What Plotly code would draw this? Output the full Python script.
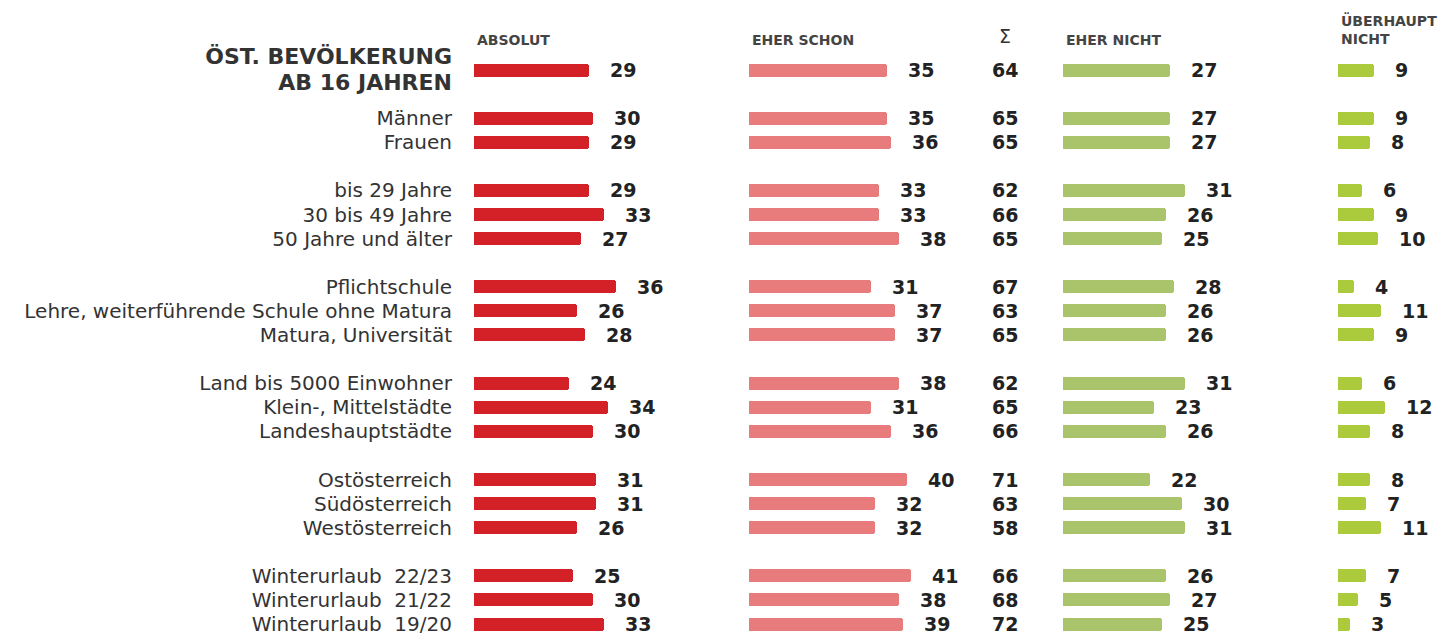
import plotly.graph_objects as go

# ---------------- data ----------------
groups = [
    ["<b><span style='font-size:22px'>ÖST. BEVÖLKERUNG<br>AB 16 JAHREN</span></b>"],
    ["Männer", "Frauen"],
    ["bis 29 Jahre", "30 bis 49 Jahre", "50 Jahre und älter"],
    ["Pflichtschule", "Lehre, weiterführende Schule ohne Matura", "Matura, Universität"],
    ["Land bis 5000 Einwohner", "Klein-, Mittelstädte", "Landeshauptstädte"],
    ["Ostösterreich", "Südösterreich", "Westösterreich"],
    ["Winterurlaub  22/23", "Winterurlaub  21/22", "Winterurlaub  19/20"],
]
absolut = [29, 30, 29, 29, 33, 27, 36, 26, 28, 24, 34, 30, 31, 31, 26, 25, 30, 33]
eher_schon = [35, 35, 36, 33, 33, 38, 31, 37, 37, 38, 31, 36, 40, 32, 32, 41, 38, 39]
summe = [64, 65, 65, 62, 66, 65, 67, 63, 65, 62, 65, 66, 71, 63, 58, 66, 68, 72]
eher_nicht = [27, 27, 27, 31, 26, 25, 28, 26, 26, 31, 23, 26, 22, 30, 31, 26, 27, 25]
ueberhaupt_nicht = [9, 9, 8, 6, 9, 10, 4, 11, 9, 6, 12, 8, 8, 7, 11, 7, 5, 3]

headers = ["ABSOLUT", "EHER SCHON", "EHER NICHT", "ÜBERHAUPT<br>NICHT"]
sum_header = "Σ"

# ---------------- layout helpers ----------------
OFF = 8  # browser body margin
W, H = 1455 - OFF, 637 - OFF
labels, ypos = [], []
pos = 0
for g in groups:
    for lab in g:
        labels.append(lab)
        ypos.append(pos)
        pos += 1
    pos += 1

row_px = 24.09
top_px = 70 - OFF
y_top = -top_px / row_px
y_bot = y_top + H / row_px

ppu = 3.95
col_x0 = [474 - OFF, 749 - OFF, 1063 - OFF, 1338 - OFF]
col_w = [260, 290, 260, W - (1338 - OFF)]
colors = ["#d42027", "#e87b7b", "#a9c46b", "#abcb3c"]
series = [absolut, eher_schon, eher_nicht, ueberhaupt_nicht]
num_font = dict(family="DejaVu Sans", size=19, color="#222222", weight="bold")
head_font = dict(family="DejaVu Sans", size=14, color="#444444", weight="bold")

fig = go.Figure()
annotations = []
for i, (vals, col) in enumerate(zip(series, colors)):
    ax = "x" if i == 0 else f"x{i+1}"
    fig.add_trace(go.Bar(
        x=vals, y=ypos, orientation="h", xaxis=ax, yaxis="y",
        marker=dict(color=col, cornerradius=3, line=dict(width=0)),
        width=0.54, hoverinfo="x+y", showlegend=False,
    ))
    for v, y in zip(vals, ypos):
        annotations.append(dict(
            x=v, y=y, xref=ax, yref="y", text=str(v), showarrow=False,
            xanchor="left", yanchor="middle", xshift=20, font=num_font,
            borderpad=0,
        ))
    # header
    annotations.append(dict(
        x=0, y=(-1.25 if "<br>" not in headers[i] else -1.7), xref=ax, yref="y",
        text=headers[i], showarrow=False, xanchor="left", yanchor="middle",
        xshift=1, align="left", font=head_font,
    ))

# sum column
sum_x = (1005 - OFF) / W
for v, y in zip(summe, ypos):
    annotations.append(dict(
        x=sum_x, y=y, xref="paper", yref="y", text=str(v), showarrow=False,
        xanchor="center", yanchor="middle", font=num_font, borderpad=0,
    ))
annotations.append(dict(
    x=sum_x, y=-1.4, xref="paper", yref="y", text=sum_header, showarrow=False,
    xanchor="center", yanchor="middle",
    font=dict(family="DejaVu Sans", size=19, color="#333333"),
))

layout_axes = {}
for i in range(4):
    key = "xaxis" if i == 0 else f"xaxis{i+1}"
    layout_axes[key] = dict(
        domain=[col_x0[i] / W, min(1.0, (col_x0[i] + col_w[i]) / W)],
        range=[0, col_w[i] / ppu], anchor="y",
        showgrid=False, zeroline=False, showline=False, showticklabels=False,
        fixedrange=True,
    )

fig.update_layout(
    width=W, height=H,
    margin=dict(l=0, r=0, t=0, b=0),
    paper_bgcolor="white", plot_bgcolor="white",
    bargap=0,
    yaxis=dict(
        domain=[0, 1], range=[y_bot, y_top], anchor="x",
        tickvals=ypos, ticktext=labels, ticks="",
        showgrid=False, zeroline=False, showline=False,
        ticklabelstandoff=21,
        tickfont=dict(family="DejaVu Sans", size=20, color="#333333"),
        fixedrange=True,
    ),
    annotations=annotations,
    **layout_axes,
)

fig.write_html("out.html")
